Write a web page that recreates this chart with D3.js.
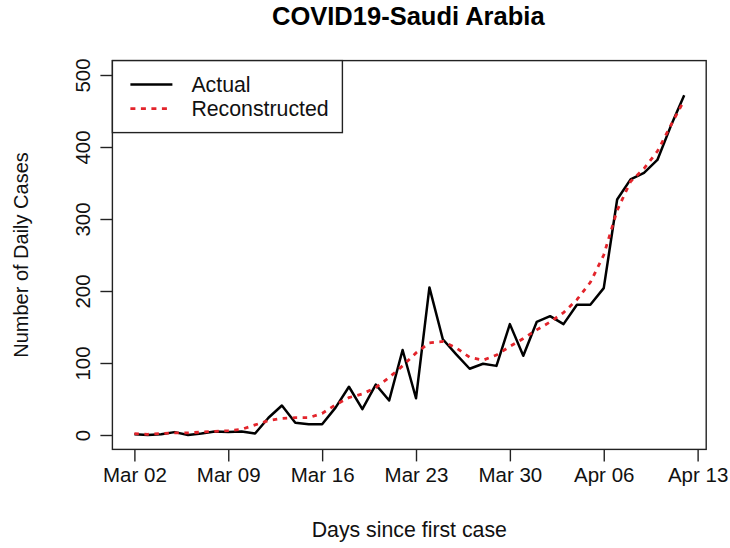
<!DOCTYPE html>
<html>
<head>
<meta charset="utf-8">
<script src="https://cdn.jsdelivr.net/npm/d3@7/dist/d3.min.js"></script>
<style>
  html, body { margin: 0; padding: 0; background: #fff; }
  svg { display: block; font-family: "Liberation Sans", Arial, Helvetica, sans-serif; }
</style>
</head>
<body>
<svg id="chart" width="730" height="548"></svg>
<script>
// Daily new COVID-19 cases in Saudi Arabia, one value per day from Mar 02
const startDate = "2020-03-02";
const actual = [1, 0, 1, 4, 0, 2, 5, 4, 5, 2,
                24, 41, 17, 15, 15, 38, 67, 36, 70, 48,
                118, 51, 205, 133, 112, 92, 99, 96, 154, 110,
                157, 165, 154, 181, 181, 204, 327, 355, 364, 382,
                429, 472];
const reconstructed = [2, 1, 2, 3, 3, 4, 5, 6, 8, 14,
                       20, 23, 24, 24, 30, 42, 52, 57, 66, 80,
                       96, 114, 128, 130, 121, 108, 104, 111, 123, 134,
                       146, 157, 170, 188, 212, 250, 312, 352, 370, 394,
                       430, 465];
const xTickDays = [0, 7, 14, 21, 28, 35, 42];
const xTickLabels = ["Mar 02", "Mar 09", "Mar 16", "Mar 23", "Mar 30", "Apr 06", "Apr 13"];
const yTicks = [0, 100, 200, 300, 400, 500];
const seriesNames = ["Actual", "Reconstructed"];

const svg = d3.select("#chart");
const fs = 20.5;      // tick labels
const fsLab = 21.3;   // axis titles and legend

// plot region (R-style 4% padding on both axes)
const n = actual.length;
const padX = (n - 1) * 0.04;
const x = d3.scaleLinear().domain([-padX, n - 1 + padX]).range([112.4, 706.2]);
const y = d3.scaleLinear().domain([-20, 520]).range([449.4, 60.6]);

const plotLeft = x.range()[0], plotRight = x.range()[1];
const plotTop = y.range()[1], plotBottom = y.range()[0];

// title
svg.append("text")
  .attr("x", (plotLeft + plotRight) / 2 - 1).attr("y", 25)
  .attr("text-anchor", "middle")
  .attr("font-weight", "bold").attr("font-size", 25.5)
  .text("COVID19-Saudi Arabia");

// x axis
const xAxis = d3.axisBottom(x)
  .tickValues(xTickDays)
  .tickFormat((d, i) => xTickLabels[i])
  .tickSize(12).tickPadding(6).tickSizeOuter(0);
const gx = svg.append("g").attr("transform", `translate(0,${plotBottom})`).call(xAxis);
gx.select(".domain").remove();
gx.selectAll(".tick line").attr("stroke", "#222").attr("stroke-width", 1.4);
gx.selectAll(".tick text").attr("font-size", fs).attr("fill", "#111")
  .attr("font-family", "Liberation Sans, Arial, sans-serif");

// y axis (labels rotated, R-style)
const yAxis = d3.axisLeft(y).tickValues(yTicks).tickSize(12).tickSizeOuter(0);
const gy = svg.append("g").attr("transform", `translate(${plotLeft},0)`).call(yAxis);
gy.select(".domain").remove();
gy.selectAll(".tick line").attr("stroke", "#222").attr("stroke-width", 1.4);
gy.selectAll(".tick text").remove();
gy.selectAll(".tick").append("text")
  .attr("transform", "translate(-30,0) rotate(-90)")
  .attr("text-anchor", "middle").attr("dy", "0.35em")
  .attr("font-size", fs).attr("fill", "#111")
  .attr("font-family", "Liberation Sans, Arial, sans-serif")
  .text(d => d);

// axis titles
svg.append("text")
  .attr("x", (plotLeft + plotRight) / 2).attr("y", 537)
  .attr("text-anchor", "middle").attr("font-size", fsLab).attr("fill", "#111")
  .text("Days since first case");
svg.append("text")
  .attr("transform", `translate(28,${(plotTop + plotBottom) / 2}) rotate(-90)`)
  .attr("text-anchor", "middle").attr("font-size", 20).attr("fill", "#111")
  .text("Number of Daily Cases");

// series
const line = d3.line().x((d, i) => x(i)).y(d => y(d));
svg.append("path").datum(actual)
  .attr("fill", "none").attr("stroke", "#000").attr("stroke-width", 2.5)
  .attr("stroke-linejoin", "round")
  .attr("d", line);
svg.append("path").datum(reconstructed)
  .attr("fill", "none").attr("stroke", "#e3242b").attr("stroke-width", 2.8)
  .attr("stroke-dasharray", "4.5,5.5")
  .attr("d", line);

// plot box
svg.append("rect")
  .attr("x", plotLeft).attr("y", plotTop)
  .attr("width", plotRight - plotLeft).attr("height", plotBottom - plotTop)
  .attr("fill", "none").attr("stroke", "#222").attr("stroke-width", 1.4);

// legend
const lg = svg.append("g");
lg.append("rect")
  .attr("x", plotLeft).attr("y", plotTop)
  .attr("width", 230).attr("height", 72)
  .attr("fill", "#fff").attr("stroke", "#222").attr("stroke-width", 1.4);
const legendStyles = [
  { stroke: "#000", dash: null, w: 2.5 },
  { stroke: "#e3242b", dash: "5,5.5", w: 2.8 }
];
seriesNames.forEach((name, i) => {
  const yy = plotTop + 24 + i * 24;
  lg.append("line")
    .attr("x1", plotLeft + 18).attr("x2", plotLeft + 60)
    .attr("y1", yy).attr("y2", yy)
    .attr("stroke", legendStyles[i].stroke)
    .attr("stroke-width", legendStyles[i].w)
    .attr("stroke-dasharray", legendStyles[i].dash);
  lg.append("text")
    .attr("x", plotLeft + 79).attr("y", yy).attr("dy", "0.35em")
    .attr("font-size", fsLab).attr("fill", "#111")
    .text(name);
});
</script>
</body>
</html>
